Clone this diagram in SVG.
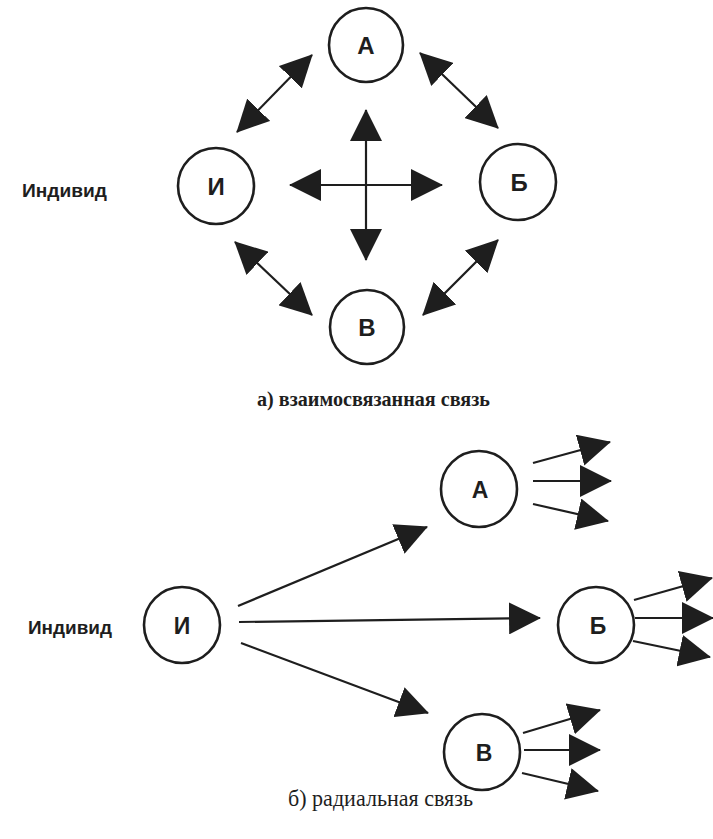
<svg xmlns="http://www.w3.org/2000/svg" width="713" height="839" viewBox="0 0 713 839">
  <style>
    .node circle { fill: #ffffff; stroke: #1e1e1e; stroke-width: 2.6; }
    .letter { font-family: "Liberation Sans", Arial, sans-serif; font-weight: bold; fill: #1e1e1e; text-anchor: middle; }
    .lbl { font-family: "Liberation Sans", Arial, sans-serif; font-weight: bold; font-size: 18px; fill: #1e1e1e; }
    .cap-a { font-family: "Liberation Serif", "Times New Roman", serif; font-weight: bold; font-size: 22px; fill: #1e1e1e; }
    .cap-b { font-family: "Liberation Serif", "Times New Roman", serif; font-size: 23px; fill: #1e1e1e; }
    .edges line { stroke: #1e1e1e; stroke-width: 2.2; fill: none; }
    .one { marker-end: url(#ah); }
    .two { marker-start: url(#ah); marker-end: url(#ah); }
  </style>
  <defs>
    <marker id="ah" viewBox="0 0 32 32" refX="31" refY="16" markerWidth="32" markerHeight="32" markerUnits="userSpaceOnUse" orient="auto-start-reverse">
      <path d="M0,0 L32,16 L0,32 Z" fill="#1e1e1e"/>
    </marker>
  </defs>
  <rect x="0" y="0" width="713" height="839" fill="#ffffff"/>

  <!-- Top diagram: interconnected -->
  <g id="top-A" class="node"><circle cx="366" cy="45" r="37"/><text class="letter" x="366" y="54" font-size="24">А</text></g>
  <g id="top-I" class="node"><circle cx="216" cy="186" r="38"/><text class="letter" x="216" y="195" font-size="24">И</text></g>
  <g id="top-B" class="node"><circle cx="518" cy="182" r="38"/><text class="letter" x="519" y="191" font-size="24">Б</text></g>
  <g id="top-V" class="node"><circle cx="367" cy="327" r="37"/><text class="letter" x="367" y="336" font-size="24">В</text></g>
  <text id="top-label" class="lbl" x="22" y="197" textLength="85" lengthAdjust="spacingAndGlyphs">Индивид</text>

  <g id="top-edges" class="edges">
    <line class="two" x1="237" y1="132" x2="312" y2="55"/>
    <line class="two" x1="420" y1="53" x2="498" y2="128"/>
    <line class="two" x1="235" y1="242" x2="312" y2="315"/>
    <line class="two" x1="423" y1="315" x2="498" y2="240"/>
    <line class="two" x1="366" y1="110" x2="366" y2="260"/>
    <line class="two" x1="290" y1="185" x2="442" y2="185"/>
  </g>

  <text id="caption-a" class="cap-a" x="257" y="406" textLength="233" lengthAdjust="spacingAndGlyphs">а) взаимосвязанная связь</text>

  <!-- Bottom diagram: radial -->
  <g id="bot-I" class="node"><circle cx="182" cy="625" r="38"/><text class="letter" x="182" y="634" font-size="23">И</text></g>
  <g id="bot-A" class="node"><circle cx="479" cy="489" r="38"/><text class="letter" x="480" y="498" font-size="23">А</text></g>
  <g id="bot-B" class="node"><circle cx="596" cy="625" r="38"/><text class="letter" x="598" y="634" font-size="23">Б</text></g>
  <g id="bot-V" class="node"><circle cx="482" cy="752" r="38"/><text class="letter" x="484" y="761" font-size="23">В</text></g>
  <text id="bot-label" class="lbl" x="28" y="634" textLength="84" lengthAdjust="spacingAndGlyphs">Индивид</text>

  <g id="bot-edges" class="edges">
    <line class="one" x1="238" y1="606" x2="427" y2="527"/>
    <line class="one" x1="239" y1="622" x2="540" y2="618"/>
    <line class="one" x1="241" y1="643" x2="428" y2="713"/>

    <line class="one" x1="533" y1="463" x2="610" y2="442"/>
    <line class="one" x1="533" y1="481" x2="611" y2="481"/>
    <line class="one" x1="533" y1="504" x2="608" y2="521"/>

    <line class="one" x1="634" y1="600" x2="712" y2="578"/>
    <line class="one" x1="635" y1="618" x2="713" y2="618"/>
    <line class="one" x1="633" y1="641" x2="710" y2="657"/>

    <line class="one" x1="523" y1="733" x2="600" y2="710"/>
    <line class="one" x1="524" y1="750" x2="600" y2="750"/>
    <line class="one" x1="522" y1="773" x2="598" y2="791"/>
  </g>

  <text id="caption-b" class="cap-b" x="288" y="806" textLength="185" lengthAdjust="spacingAndGlyphs">б) радиальная связь</text>
</svg>
